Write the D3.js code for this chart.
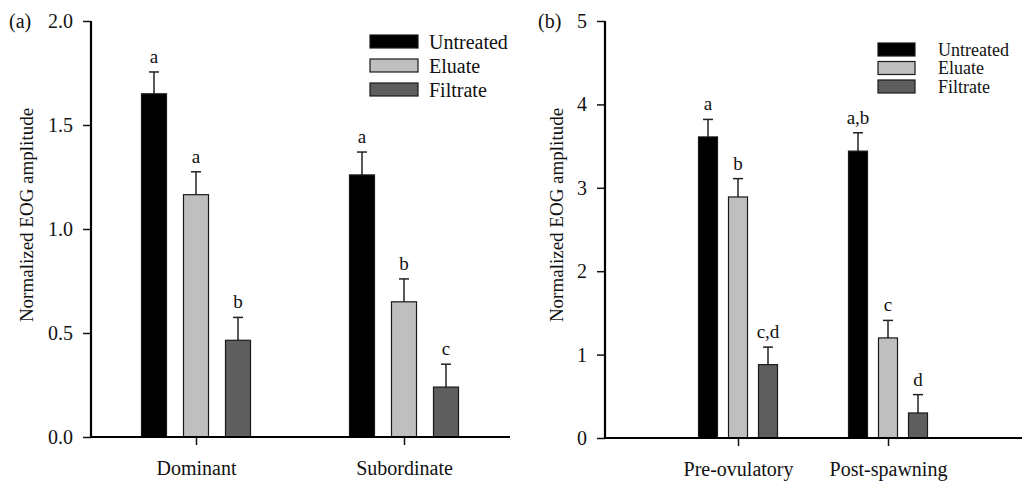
<!DOCTYPE html>
<html>
<head>
<meta charset="utf-8">
<script src="https://cdn.jsdelivr.net/npm/d3@7"></script>
<style>
  html, body { margin: 0; padding: 0; background: #fff; }
  svg text { font-family: "Liberation Serif", "Times New Roman", serif; fill: #111; }
</style>
</head>
<body>
<svg id="chart" width="1022" height="483"></svg>
<script>
// ---------- data ----------
const seriesNames = ["Untreated", "Eluate", "Filtrate"];
const seriesColors = ["#000000", "#bfbfbf", "#5e5e5e"];

const catsA = ["Dominant", "Subordinate"];
const untreatedA = [1.65, 1.26];
const eluateA = [1.165, 0.65];
const filtrateA = [0.465, 0.24];
const untreatedErrA = [0.105, 0.11];
const eluateErrA = [0.11, 0.11];
const filtrateErrA = [0.11, 0.11];
const lettersA = [["a", "a", "b"], ["a", "b", "c"]];
const yTicksA = [0.0, 0.5, 1.0, 1.5, 2.0];

const catsB = ["Pre-ovulatory", "Post-spawning"];
const untreatedB = [3.61, 3.44];
const eluateB = [2.89, 1.20];
const filtrateB = [0.88, 0.30];
const untreatedErrB = [0.21, 0.22];
const eluateErrB = [0.22, 0.21];
const filtrateErrB = [0.21, 0.22];
const lettersB = [["a", "b", "c,d"], ["a,b", "c", "d"]];
const yTicksB = [0, 1, 2, 3, 4, 5];

const svg = d3.select("#chart");
const FS = 19;

function panel(cfg) {
  const g = svg.append("g");
  const y = d3.scaleLinear().domain(cfg.yDomain).range([cfg.y0, cfg.y1]);
  const x = d3.scalePoint().domain(cfg.cats).range(cfg.xCenters);

  const series = [cfg.u, cfg.e, cfg.f];
  const errs = [cfg.ue, cfg.ee, cfg.fe];

  cfg.cats.forEach((c, ci) => {
    series.forEach((s, si) => {
      const cx = x(c) + (si - 1) * cfg.gap;
      const v = s[ci], err = errs[si][ci];
      g.append("line")
        .attr("x1", cx).attr("x2", cx)
        .attr("y1", y(v)).attr("y2", y(v + err))
        .attr("stroke", "#222").attr("stroke-width", 1.5);
      g.append("line")
        .attr("x1", cx - 5).attr("x2", cx + 5)
        .attr("y1", y(v + err)).attr("y2", y(v + err))
        .attr("stroke", "#222").attr("stroke-width", 1.5);
      g.append("rect")
        .attr("x", cx - cfg.bw / 2).attr("width", cfg.bw)
        .attr("y", y(v)).attr("height", y(0) - y(v))
        .attr("fill", seriesColors[si])
        .attr("stroke", "#1a1a1a").attr("stroke-width", 1.2);
      g.append("text")
        .attr("x", cx).attr("y", y(v + err) - 9)
        .attr("text-anchor", "middle")
        .attr("font-size", FS)
        .text(cfg.letters[ci][si]);
    });
  });

  // y axis
  const yAxis = d3.axisLeft(y).tickValues(cfg.yTicks).tickSize(8).tickPadding(10)
    .tickFormat(cfg.yFmt);
  const ya = g.append("g").attr("transform", `translate(${cfg.xAxis},0)`).call(yAxis);
  ya.select(".domain").remove();
  ya.selectAll(".tick line").attr("stroke", "#111").attr("stroke-width", 1.5);
  ya.selectAll(".tick text").attr("font-size", FS + 1).attr("font-family", '"Liberation Serif", serif').attr("fill", "#111");
  g.append("line")
    .attr("x1", cfg.xAxis).attr("x2", cfg.xAxis)
    .attr("y1", y(cfg.yDomain[0]) + 1).attr("y2", y(cfg.yDomain[1]))
    .attr("stroke", "#000").attr("stroke-width", 2.2);

  // x axis
  const xAxis = d3.axisBottom(x).tickSize(8).tickPadding(16);
  const xa = g.append("g").attr("transform", `translate(0,${y(0)})`).call(xAxis);
  xa.select(".domain").remove();
  xa.selectAll(".tick line").attr("stroke", "#111").attr("stroke-width", 1.5);
  xa.selectAll(".tick text").attr("font-size", FS + 1).attr("font-family", '"Liberation Serif", serif').attr("fill", "#111");
  g.append("line")
    .attr("x1", cfg.xAxis - 1).attr("x2", cfg.xEnd)
    .attr("y1", y(0)).attr("y2", y(0))
    .attr("stroke", "#000").attr("stroke-width", 2);

  // y label
  g.append("text")
    .attr("transform", `translate(${cfg.labelX},${cfg.labelY}) rotate(-90)`)
    .attr("text-anchor", "middle")
    .attr("dy", "0.35em")
    .attr("font-size", FS)
    .text("Normalized EOG amplitude");

  // panel letter
  g.append("text")
    .attr("x", cfg.tagX).attr("y", 28)
    .attr("font-size", FS + 1)
    .text(cfg.tag);

  // legend
  seriesNames.forEach((name, i) => {
    const ry = cfg.legY + i * cfg.legStep;
    g.append("rect")
      .attr("x", cfg.legX).attr("y", ry)
      .attr("width", cfg.legW).attr("height", 13)
      .attr("fill", seriesColors[i])
      .attr("stroke", "#1a1a1a").attr("stroke-width", 1.2);
    g.append("text")
      .attr("x", cfg.legTextX).attr("y", ry + 6.5)
      .attr("dy", "0.35em")
      .attr("font-size", cfg.legFS)
      .text(name);
  });
}

panel({
  cats: catsA, u: untreatedA, e: eluateA, f: filtrateA,
  ue: untreatedErrA, ee: eluateErrA, fe: filtrateErrA,
  letters: lettersA, yTicks: yTicksA, yDomain: [0, 2], yFmt: d3.format(".1f"),
  y0: 437, y1: 21, xCenters: [196, 404], gap: 42, bw: 25,
  xAxis: 91, xEnd: 510, labelX: 26, labelY: 215, tag: "(a)", tagX: 9,
  legX: 370, legY: 35, legStep: 24, legW: 48, legTextX: 429, legFS: 20
});

panel({
  cats: catsB, u: untreatedB, e: eluateB, f: filtrateB,
  ue: untreatedErrB, ee: eluateErrB, fe: filtrateErrB,
  letters: lettersB, yTicks: yTicksB, yDomain: [0, 5], yFmt: d3.format("d"),
  y0: 438, y1: 21, xCenters: [738, 888], gap: 30, bw: 19,
  xAxis: 605, xEnd: 1022, labelX: 556, labelY: 215, tag: "(b)", tagX: 538,
  legX: 878, legY: 43, legStep: 18.5, legW: 37, legTextX: 938, legFS: 18
});
</script>
</body>
</html>
